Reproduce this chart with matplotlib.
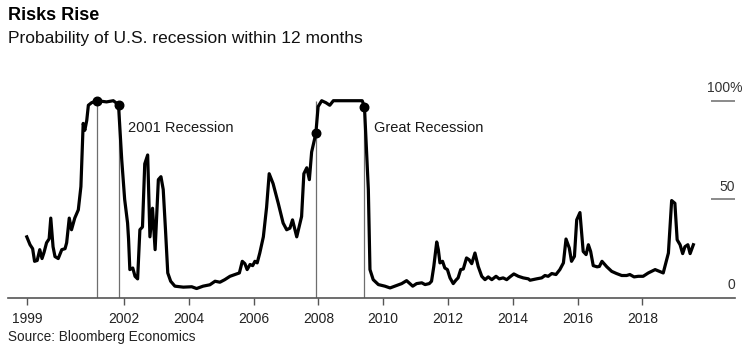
import numpy as np
import matplotlib
matplotlib.use("Agg")
import matplotlib.pyplot as plt
import matplotlib.transforms as mtransforms

plt.rcParams['font.family'] = ['Liberation Sans', 'DejaVu Sans']

# probability of U.S. recession within 12 months (decimal year, percent)
years = [
    1999.00, 1999.10, 1999.18, 1999.24, 1999.32, 1999.40, 1999.47, 1999.53, 1999.61, 1999.69,
    1999.74, 1999.81, 1999.87, 1999.97, 2000.08, 2000.18, 2000.23, 2000.31, 2000.38, 2000.48,
    2000.59, 2000.67, 2000.74, 2000.79, 2000.85, 2000.90, 2001.00, 2001.17, 2001.46, 2001.67,
    2001.83, 2001.93, 2002.02, 2002.11, 2002.14, 2002.18, 2002.27, 2002.34, 2002.42, 2002.49,
    2002.57, 2002.64, 2002.73, 2002.80, 2002.88, 2002.96, 2003.06, 2003.14, 2003.21, 2003.28,
    2003.35, 2003.44, 2003.57, 2003.83, 2004.09, 2004.24, 2004.44, 2004.65, 2004.81, 2004.96,
    2005.11, 2005.27, 2005.42, 2005.56, 2005.65, 2005.73, 2005.80, 2005.89, 2005.97, 2006.04,
    2006.11, 2006.19, 2006.30, 2006.40, 2006.48, 2006.60, 2006.76, 2006.91, 2007.02, 2007.12,
    2007.20, 2007.33, 2007.43, 2007.48, 2007.55, 2007.64, 2007.72, 2007.79, 2007.92, 2007.99,
    2008.10, 2008.23, 2008.35, 2008.46, 2009.35, 2009.42, 2009.54, 2009.59, 2009.69, 2009.85,
    2010.05, 2010.21, 2010.36, 2010.57, 2010.72, 2010.82, 2010.91, 2011.03, 2011.19, 2011.29,
    2011.42, 2011.49, 2011.56, 2011.65, 2011.70, 2011.75, 2011.83, 2011.90, 2011.98, 2012.06,
    2012.16, 2012.24, 2012.31, 2012.39, 2012.47, 2012.57, 2012.65, 2012.73, 2012.83, 2012.93,
    2013.04, 2013.14, 2013.24, 2013.35, 2013.48, 2013.58, 2013.70, 2013.81, 2013.91, 2014.03,
    2014.17, 2014.32, 2014.48, 2014.53, 2014.73, 2014.89, 2014.99, 2015.09, 2015.20, 2015.33,
    2015.45, 2015.56, 2015.64, 2015.74, 2015.81, 2015.90, 2015.97, 2016.07, 2016.17, 2016.26,
    2016.33, 2016.40, 2016.48, 2016.60, 2016.67, 2016.75, 2016.90, 2017.05, 2017.20, 2017.36,
    2017.51, 2017.61, 2017.74, 2017.87, 2018.02, 2018.18, 2018.39, 2018.52, 2018.64, 2018.80,
    2018.90, 2019.00, 2019.07, 2019.16, 2019.24, 2019.31, 2019.40, 2019.47, 2019.57,
]
prob = [
    31, 27, 25, 18.6, 19, 24.5, 20, 23, 28, 30,
    40.5, 26, 21, 20, 24.5, 25, 28, 40.5, 34.6, 40.5,
    44.7, 56.5, 88.5, 85, 90, 97.7, 99, 100, 99.4, 100,
    98, 70, 50, 38, 30, 14.4, 15.2, 11, 9.7, 34.6,
    36, 68, 72.5, 31, 45.5, 24.5, 60, 61.5, 55, 34.6,
    12.7, 8.5, 6, 5.5, 5.7, 4.8, 6, 6.7, 8.5, 8,
    9.3, 11, 11.9, 12.7, 18.6, 17.4, 14.4, 17, 16.4, 18.6,
    17.8, 22.8, 31, 46, 63, 58, 48, 38, 34.6, 35.4,
    39.6, 31, 38, 41.3, 63, 66, 60, 74, 83.4, 97,
    100, 99, 97.7, 100, 100, 97, 55, 14.4, 9.3, 6.8,
    6, 5.1, 6, 7.3, 8.8, 7.3, 6, 7.3, 7.7, 6.8,
    7.3, 8.5, 16, 28.4, 24.5, 17.8, 18.6, 15.2, 14.4, 10.2,
    7.3, 9, 10.2, 14.4, 14.7, 20.3, 19.4, 17.4, 22.8, 16,
    11, 9.3, 10.7, 9.3, 11, 9.7, 10.2, 9.3, 10.7, 12.2,
    11, 10.2, 9.7, 9, 9.7, 10.2, 11.4, 11, 12.4, 11.9,
    14.4, 17.8, 29.9, 25.4, 18.6, 21.1, 39.6, 43.3, 23.6, 22,
    27, 23.6, 16.4, 15.8, 16, 18.6, 15.8, 13.5, 12.4, 11.4,
    11.4, 11.9, 10.7, 11, 11, 12.7, 14.4, 13.5, 12.7, 22.8,
    49.4, 48, 29.5, 27, 22.5, 26, 27, 22.5, 27,
]

# recession start/end dates with the series value at each
rec_dates = [2001.17, 2001.83, 2007.92, 2009.42]
rec_values = [100, 98, 83.4, 97]
rec_line_top = [100, 98, 100, 97]
rec_labels = ["2001 Recession", "Great Recession"]
rec_label_x = [2002.12, 2009.71]

tick_years = [1999, 2002, 2004, 2006, 2008, 2010, 2012, 2014, 2016, 2018]
y_levels = [0, 50, 100]
y_labels = ["0", "50", "100%"]

fig = plt.figure(figsize=(7.55, 3.51), dpi=100)
ax = fig.add_axes([8 / 755, 53 / 351, 727 / 755, 218 / 351])
ax.set_xlim(1998.42, 2020.855)
ax.set_ylim(0, 110.5)

# recession markers
ax.vlines(rec_dates, 0, rec_line_top, color='#6e6e6e', lw=0.9, zorder=1)
ax.plot(years, prob, color='black', lw=2.3, solid_joinstyle='round', zorder=3)
ax.scatter(rec_dates, rec_values, s=38, color='black', zorder=4)
for lab, lx in zip(rec_labels, rec_label_x):
    ax.text(lx, 86.2, lab, fontsize=10.5, va='center', ha='left', color='#1a1a1a')

# right-hand y labels with short grid stubs
trans = ax.get_yaxis_transform()
ax.hlines([50, 100], 0.967, 1.0, transform=trans, color='#8a8a8a', lw=1.4, clip_on=False)
for v, lab in zip(y_levels, y_labels):
    xpos = 1.011 if lab.endswith('%') else 1.0
    ax.annotate(lab, xy=(xpos, v), xycoords=trans, xytext=(0, 4), textcoords='offset points',
                ha='right', va='bottom', fontsize=10, color='#333333', annotation_clip=False)

for side in ['top', 'left', 'right']:
    ax.spines[side].set_visible(False)
ax.spines['bottom'].set_color('#555555')
ax.spines['bottom'].set_linewidth(1.2)
ax.set_yticks([])
ax.set_xticks(tick_years)
ax.set_xticklabels([str(y) for y in tick_years])
ax.tick_params(axis='x', direction='out', length=5, width=1, color='#555555',
               labelsize=10, labelcolor='#222222', pad=5)

fig.text(8 / 755, 1 - 15 / 351, "Risks Rise", fontsize=13, fontweight='bold', va='center', ha='left')
fig.text(8 / 755, 1 - 38 / 351, "Probability of U.S. recession within 12 months", fontsize=12.5,
         va='center', ha='left', color='#111111')
fig.text(8 / 755, 1 - 337 / 351, "Source: Bloomberg Economics", fontsize=9.8, va='center',
         ha='left', color='#222222')

fig.savefig("out.png", dpi=100)
